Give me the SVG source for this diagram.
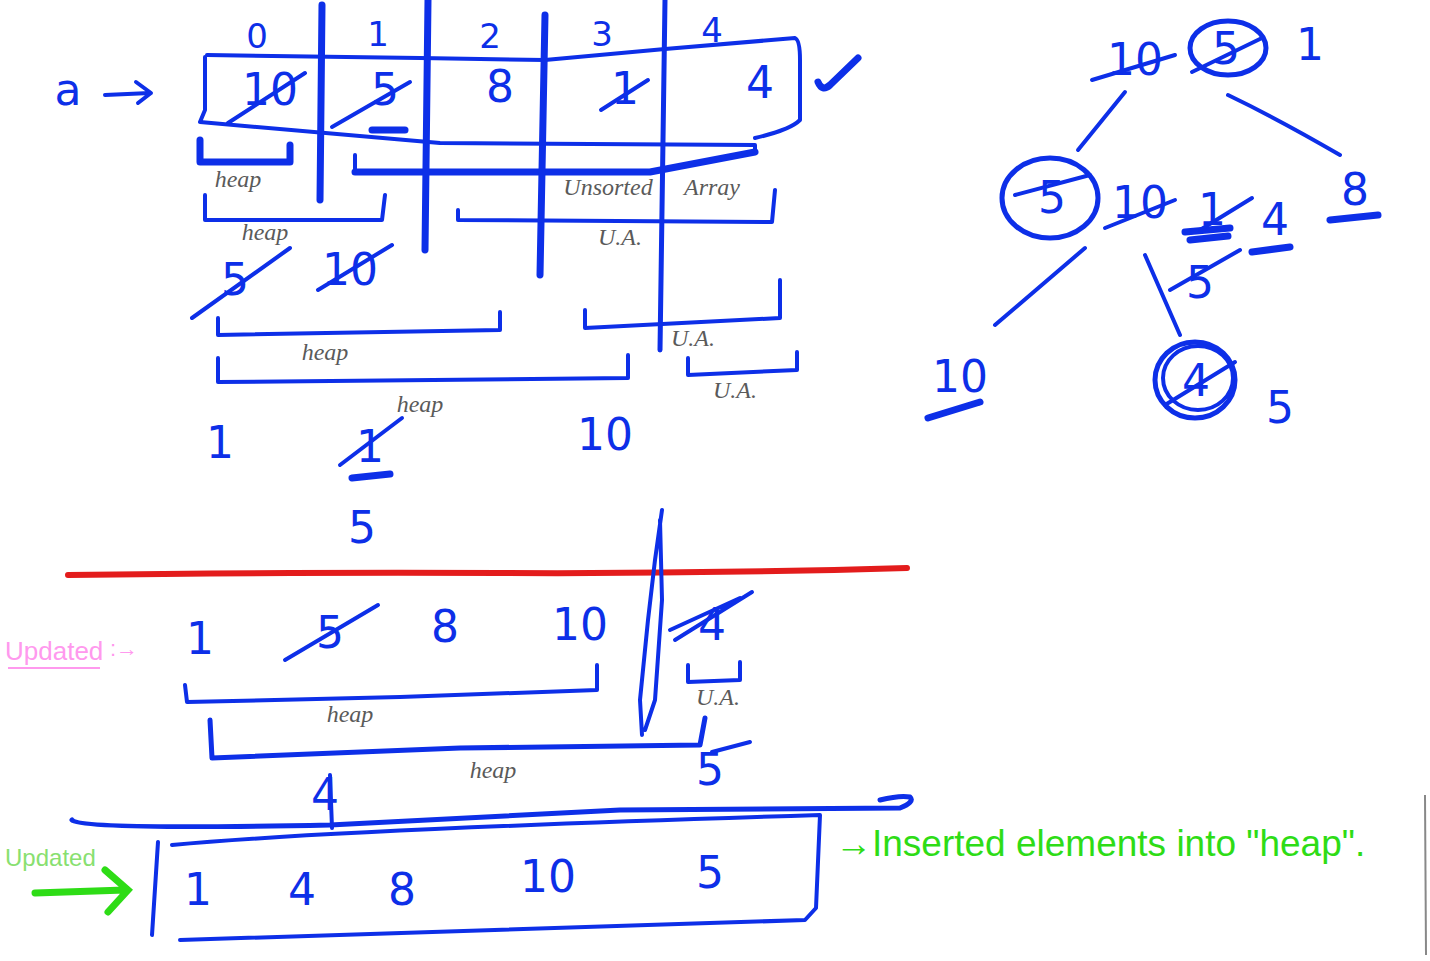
<svg xmlns="http://www.w3.org/2000/svg" width="1430" height="961" viewBox="0 0 1430 961">
<style>
.s{stroke:#0d2fe8;fill:none;stroke-width:4;stroke-linecap:round;stroke-linejoin:round}
.k{stroke:#0d2fe8;fill:none;stroke-width:7;stroke-linecap:round;stroke-linejoin:round}
.x{stroke:#0d2fe8;fill:none;stroke-width:4;stroke-linecap:round}
.t{font-family:"DejaVu Sans","Liberation Sans",sans-serif;fill:#0d2fe8;font-size:44px;text-anchor:middle}
.i{font-family:"DejaVu Sans","Liberation Sans",sans-serif;fill:#0d2fe8;font-size:34px;text-anchor:middle}
.g{font-family:"Liberation Serif",serif;fill:#5a5a5a;font-size:24px;font-style:italic;text-anchor:middle}
</style>
<rect width="1430" height="961" fill="#ffffff"/>
<g id="array-top">
<text class="t" x="68" y="105">a</text>
<path class="s" d="M105 95 L150 93 M136 82 L151 93 L138 103"/>
<text class="i" x="257" y="48">0</text>
<text class="i" x="378" y="46">1</text>
<text class="i" x="490" y="48">2</text>
<text class="i" x="602" y="46">3</text>
<text class="i" x="712" y="42">4</text>
<path class="s" d="M207 55 L420 58 L545 60 L665 49 L795 38 Q800 40 800 60 L800 120 Q790 130 755 138"/>
<path class="s" d="M205 57 L205 110 L200 122 L440 143 L755 145 L755 152"/>
<path class="k" d="M355 172 L650 172 L755 152"/>
<path class="k" d="M322 5 L320 200 M428 0 L425 250 M545 15 L540 275"/>
<path class="s" d="M665 0 L660 350" style="stroke-width:5"/>
<text class="t" x="270" y="105">10</text>
<path class="x" d="M228 123 L305 73"/>
<text class="t" x="385" y="105">5</text>
<path class="x" d="M332 127 L410 82"/>
<path class="k" d="M372 130 L405 130"/>
<text class="t" x="500" y="102">8</text>
<text class="t" x="625" y="104">1</text>
<path class="x" d="M601 110 L648 80"/>
<text class="t" x="760" y="98">4</text>
<path class="k" d="M818 82 Q822 92 830 85 L858 58"/>
</g>
<g id="brackets-top">
<path class="k" d="M200 140 L200 162 L290 162 L290 145"/>
<text class="g" x="238" y="187">heap</text>
<path class="s" d="M355 155 L355 172"/>
<path class="s" d="M205 195 L205 220 L382 220 L385 195"/>
<text class="g" x="265" y="240">heap</text>
<path class="s" d="M458 210 L458 220 L772 222 L775 190"/>
<text class="g" x="608" y="195">Unsorted</text>
<text class="g" x="712" y="195">Array</text>
<text class="g" x="620" y="245">U.A.</text>
<text class="t" x="235" y="295">5</text>
<path class="x" d="M192 318 L290 248"/>
<text class="t" x="350" y="285">10</text>
<path class="x" d="M318 290 L392 245"/>
<path class="s" d="M218 318 L218 335 L500 330 L500 312"/>
<text class="g" x="325" y="360">heap</text>
<path class="s" d="M585 310 L585 328 L780 318 L780 280"/>
<text class="g" x="693" y="346">U.A.</text>
<path class="s" d="M218 358 L218 382 L628 378 L628 355"/>
<text class="g" x="420" y="412">heap</text>
<path class="s" d="M688 358 L688 375 L797 370 L797 352"/>
<text class="g" x="735" y="398">U.A.</text>
<text class="t" x="220" y="458">1</text>
<text class="t" x="370" y="462">1</text>
<path class="x" d="M340 465 L402 418"/>
<path class="k" d="M352 478 L390 474"/>
<text class="t" x="605" y="450">10</text>
<text class="t" x="362" y="543">5</text>
</g>
<g id="divider">
<path d="M68 575 Q300 572 500 573 T907 568" stroke="#e31c1c" stroke-width="6" fill="none" stroke-linecap="round"/>
<path class="s" d="M662 510 L655 560 L648 620 L640 700 L642 735 M660 520 L662 600 L655 700 L645 730"/>
</g>
<g id="updated-row">
<text x="5" y="660" font-family="Liberation Sans, sans-serif" font-size="26px" fill="#ff99ee">Updated</text>
<path d="M8 668 L100 668" stroke="#ff99ee" stroke-width="2"/>
<text x="110" y="656" font-family="Liberation Sans, sans-serif" font-size="22px" fill="#ff99ee">:→</text>
<text class="t" x="200" y="654">1</text>
<text class="t" x="330" y="648">5</text>
<path class="x" d="M285 660 L378 605"/>
<text class="t" x="445" y="642">8</text>
<text class="t" x="580" y="640">10</text>
<text class="t" x="712" y="640">4</text>
<path class="x" d="M675 640 L752 592 M670 630 L740 598"/>
<path class="s" d="M185 685 L187 702 L400 697 L597 690 L597 665"/>
<text class="g" x="350" y="722">heap</text>
<path class="s" d="M688 665 L688 682 L740 680 L740 662"/>
<text class="g" x="718" y="705">U.A.</text>
<path class="s" d="M210 720 L212 758 L460 748 L700 745 L705 718" style="stroke-width:5"/>
<text class="g" x="493" y="778">heap</text>
<text class="t" x="710" y="785">5</text>
<path class="x" d="M712 752 L750 742"/>
<text class="t" x="325" y="810">4</text>
</g>
<g id="final-array">
<path class="s" d="M330 775 L332 828"/>
<path class="s" d="M72 820 Q80 830 330 825 L620 810 L900 808 Q915 802 910 797 Q900 795 880 800" style="stroke-width:5"/>
<path class="s" d="M158 842 L152 935 M172 845 Q330 830 820 815 L816 908 L805 920 L180 940"/>
<text class="t" x="198" y="905">1</text>
<text class="t" x="302" y="905">4</text>
<text class="t" x="402" y="905">8</text>
<text class="t" x="548" y="892">10</text>
<text class="t" x="710" y="888">5</text>
<text x="5" y="866" font-family="Liberation Sans, sans-serif" font-size="24px" fill="#88e070">Updated</text>
<path d="M35 893 L125 890 M105 870 L128 890 L108 912" stroke="#2edc16" stroke-width="7" fill="none" stroke-linecap="round"/>
<text x="835" y="856" font-family="Liberation Sans, sans-serif" font-size="37px" fill="#2edc16">→Inserted elements into "heap".</text>
<path d="M1425 795 L1426 955" stroke="#888" stroke-width="2"/>
</g>
<g id="tree">
<text class="t" x="1135" y="75">10</text>
<path class="x" d="M1092 80 L1175 55"/>
<ellipse class="s" cx="1228" cy="48" rx="38" ry="27" style="stroke-width:5"/>
<text class="t" x="1226" y="64">5</text>
<path class="x" d="M1192 72 L1262 38"/>
<text class="t" x="1310" y="60">1</text>
<path class="s" d="M1125 92 L1078 150"/>
<path class="s" d="M1228 95 Q1280 120 1340 155"/>
<text class="t" x="1355" y="205">8</text>
<path class="k" d="M1330 220 L1378 215"/>
<ellipse class="s" cx="1050" cy="198" rx="48" ry="40" style="stroke-width:5"/>
<text class="t" x="1052" y="213">5</text>
<path class="x" d="M1015 195 L1090 175"/>
<text class="t" x="1140" y="218">10</text>
<path class="x" d="M1105 228 L1175 200"/>
<text class="t" x="1212" y="225">1</text>
<path class="k" d="M1185 232 L1230 228 M1190 240 L1228 236"/>
<path class="x" d="M1200 230 L1252 198"/>
<text class="t" x="1275" y="235">4</text>
<path class="k" d="M1252 252 L1290 247"/>
<path class="s" d="M1085 248 L995 325"/>
<path class="s" d="M1145 255 L1180 335"/>
<text class="t" x="1200" y="298">5</text>
<path class="x" d="M1170 290 L1240 250"/>
<ellipse class="s" cx="1195" cy="380" rx="40" ry="38" style="stroke-width:5"/>
<ellipse class="s" cx="1198" cy="378" rx="35" ry="32"/>
<text class="t" x="1196" y="396">4</text>
<path class="x" d="M1165 405 L1235 362"/>
<text class="t" x="1280" y="423">5</text>
<text class="t" x="960" y="392">10</text>
<path class="k" d="M928 418 L980 402"/>
</g>
</svg>
